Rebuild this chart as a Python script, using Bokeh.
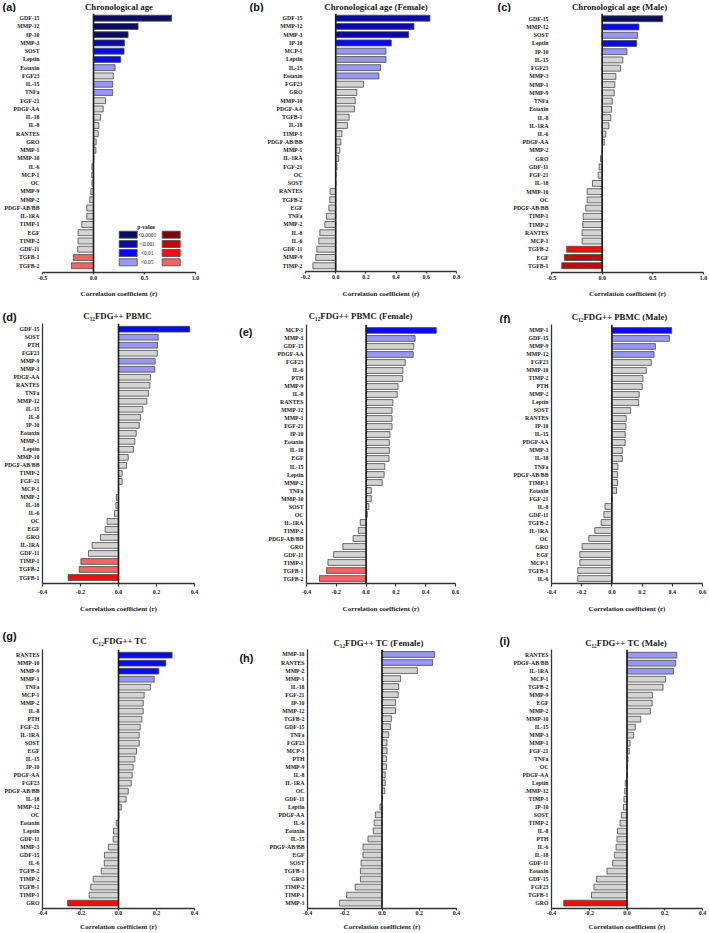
from bokeh.plotting import figure
from bokeh.layouts import column, row
from bokeh.models import (Range1d, FixedTicker, PrintfTickFormatter, Span, Label, LinearAxis,
                          BoxAnnotation, ColumnDataSource)
from bokeh.embed import file_html
from bokeh.resources import INLINE

# ---------------- data ----------------
a_names = ["GDF-15", "MMP-12", "IP-10", "MMP-3", "SOST", "Leptin", "Eotaxin", "FGF23", "IL-15", "TNFa",
           "FGF-21", "PDGF-AA", "IL-18", "IL-8", "RANTES", "GRO", "MMP-1", "MMP-10", "IL-6", "MCP-1",
           "OC", "MMP-9", "MMP-2", "PDGF-AB/BB", "IL-1RA", "TIMP-1", "EGF", "TIMP-2", "GDF-11", "TGFB-1", "TGFB-2"]
a_vals = [0.766, 0.437, 0.339, 0.303, 0.299, 0.266, 0.211, 0.194, 0.188, 0.188,
          0.118, 0.095, 0.069, 0.053, 0.046, 0.026, 0.023, 0.003, -0.016, -0.016,
          -0.015, -0.026, -0.036, -0.066, -0.066, -0.115, -0.151, -0.151, -0.155, -0.197, -0.217]
a_sig = {"GDF-15": 4, "MMP-12": 4, "IP-10": 4, "MMP-3": 3, "SOST": 2, "Leptin": 2,
         "Eotaxin": 1, "IL-15": 1, "TNFa": 1, "TGFB-1": 1, "TGFB-2": 1}

b_names = ["GDF-15", "MMP-12", "MMP-3", "IP-10", "MCP-1", "Leptin", "IL-15", "Eotaxin", "FGF23", "GRO",
           "MMP-10", "PDGF-AA", "TGFB-1", "IL-18", "TIMP-1", "PDGF-AB/BB", "MMP-1", "IL-1RA", "FGF-21", "OC",
           "SOST", "RANTES", "TGFB-2", "EGF", "TNFa", "MMP-2", "IL-8", "IL-6", "GDF-11", "MMP-9", "TIMP-2"]
b_vals = [0.624, 0.518, 0.483, 0.368, 0.333, 0.333, 0.297, 0.286, 0.184, 0.140,
          0.129, 0.124, 0.089, 0.078, 0.041, 0.034, 0.027, 0.019, 0.008, 0.001,
          0.001, -0.037, -0.039, -0.045, -0.061, -0.072, -0.105, -0.112, -0.125, -0.132, -0.151]
b_sig = {"GDF-15": 3, "MMP-12": 3, "MMP-3": 3, "IP-10": 2, "MCP-1": 1, "Leptin": 1, "IL-15": 1, "Eotaxin": 1}

c_names = ["GDF-15", "MMP-12", "SOST", "Leptin", "IP-10", "IL-15", "FGF23", "MMP-3", "MMP-1", "MMP-9",
           "TNFa", "Eotaxin", "IL-8", "IL-1RA", "IL-6", "PDGF-AA", "MMP-2", "GRO", "GDF-11", "FGF-21",
           "IL-18", "MMP-10", "OC", "PDGF-AB/BB", "TIMP-1", "TIMP-2", "RANTES", "MCP-1", "TGFB-2", "EGF", "TGFB-1"]
c_vals = [0.597, 0.363, 0.349, 0.340, 0.244, 0.204, 0.181, 0.135, 0.125, 0.119,
          0.099, 0.092, 0.086, 0.066, 0.036, 0.020, 0.002, -0.016, -0.030, -0.040,
          -0.096, -0.148, -0.148, -0.162, -0.188, -0.191, -0.198, -0.198, -0.350, -0.373, -0.399]
c_sig = {"GDF-15": 4, "MMP-12": 2, "SOST": 1, "Leptin": 2, "IP-10": 1, "TGFB-2": 2, "EGF": 3, "TGFB-1": 3}

d_names = ["GDF-15", "SOST", "PTH", "FGF23", "MMP-9", "MMP-3", "PDGF-AA", "RANTES", "TNFa", "MMP-12",
           "IL-15", "IL-8", "IP-10", "Eotaxin", "MMP-1", "Leptin", "MMP-10", "PDGF-AB/BB", "TIMP-2", "FGF-21",
           "MCP-1", "MMP-2", "IL-18", "IL-6", "OC", "EGF", "GRO", "IL-1RA", "GDF-11", "TIMP-1", "TGFB-2", "TGFB-1"]
d_vals = [0.375, 0.209, 0.205, 0.204, 0.193, 0.191, 0.168, 0.165, 0.158, 0.149,
          0.128, 0.116, 0.109, 0.093, 0.086, 0.079, 0.051, 0.042, 0.019, 0.019,
          0.001, -0.011, -0.014, -0.021, -0.060, -0.070, -0.095, -0.139, -0.158, -0.198, -0.207, -0.265]
d_sig = {"GDF-15": 2, "SOST": 1, "PTH": 1, "MMP-9": 1, "MMP-3": 1, "TIMP-1": 1, "TGFB-2": 1, "TGFB-1": 2}

e_names = ["MCP-1", "MMP-3", "GDF-15", "PDGF-AA", "FGF23", "IL-6", "PTH", "MMP-9", "IL-8", "RANTES",
           "MMP-12", "MMP-1", "FGF-21", "IP-10", "Eotaxin", "IL-18", "EGF", "IL-15", "Leptin", "MMP-2",
           "TNFa", "MMP-10", "SOST", "OC", "IL-1RA", "TIMP-2", "PDGF-AB/BB", "GRO", "GDF-11", "TIMP-1", "TGFB-1", "TGFB-2"]
e_vals = [0.471, 0.329, 0.320, 0.316, 0.263, 0.247, 0.245, 0.214, 0.209, 0.180,
          0.174, 0.174, 0.174, 0.160, 0.156, 0.156, 0.154, 0.125, 0.121, 0.108,
          0.035, 0.035, 0.019, 0.008, -0.039, -0.052, -0.087, -0.156, -0.218, -0.256, -0.265, -0.313]
e_sig = {"MCP-1": 2, "MMP-3": 1, "PDGF-AA": 1, "TGFB-1": 1, "TGFB-2": 1}

f_names = ["MMP-1", "GDF-15", "MMP-9", "MMP-12", "FGF23", "MMP-10", "TIMP-2", "PTH", "MMP-2", "Leptin",
           "SOST", "RANTES", "IP-10", "IL-15", "PDGF-AA", "MMP-3", "IL-18", "TNFa", "PDGF-AB/BB", "TIMP-1",
           "Eotaxin", "FGF-21", "IL-8", "GDF-11", "TGFB-2", "IL-1RA", "OC", "GRO", "EGF", "MCP-1", "TGFB-1", "IL-6"]
f_vals = [0.396, 0.381, 0.288, 0.279, 0.261, 0.228, 0.206, 0.201, 0.181, 0.177,
          0.124, 0.095, 0.093, 0.088, 0.088, 0.069, 0.069, 0.040, 0.038, 0.038,
          0.031, 0.001, -0.046, -0.053, -0.071, -0.113, -0.153, -0.197, -0.212, -0.212, -0.226, -0.226]
f_sig = {"MMP-1": 2, "GDF-15": 1, "MMP-9": 1, "MMP-12": 1}

g_names = ["RANTES", "MMP-10", "MMP-9", "MMP-1", "TNFa", "MCP-1", "MMP-2", "IL-8", "PTH", "FGF-21",
           "IL-1RA", "SOST", "EGF", "IL-15", "IP-10", "PDGF-AA", "FGF23", "PDGF-AB/BB", "IL-18", "MMP-12",
           "OC", "Eotaxin", "Leptin", "GDF-11", "MMP-3", "GDF-15", "IL-6", "TGFB-2", "TIMP-2", "TGFB-1", "TIMP-1", "GRO"]
g_vals = [0.282, 0.249, 0.212, 0.188, 0.168, 0.135, 0.130, 0.130, 0.123, 0.114,
          0.109, 0.109, 0.095, 0.086, 0.077, 0.072, 0.067, 0.051, 0.040, 0.014,
          0.002, -0.012, -0.026, -0.028, -0.053, -0.074, -0.075, -0.091, -0.133, -0.146, -0.154, -0.268]
g_sig = {"RANTES": 2, "MMP-10": 2, "MMP-9": 2, "MMP-1": 1, "GRO": 2}

h_names = ["MMP-10", "RANTES", "MMP-2", "MMP-1", "IL-18", "FGF-21", "IP-10", "MMP-12", "TGFB-2", "GDF-15",
           "TNFa", "FGF23", "MCP-1", "PTH", "MMP-9", "IL-8", "IL-1RA", "OC", "GDF-11", "Leptin",
           "PDGF-AA", "IL-6", "Eotaxin", "IL-15", "PDGF-AB/BB", "EGF", "SOST", "TGFB-1", "GRO", "TIMP-2", "TIMP-1", "MMP-3"]
h_vals = [0.282, 0.271, 0.190, 0.100, 0.089, 0.087, 0.073, 0.073, 0.050, 0.045,
          0.036, 0.027, 0.027, 0.024, 0.024, 0.017, 0.017, 0.015, 0.001, -0.011,
          -0.036, -0.042, -0.047, -0.075, -0.102, -0.102, -0.112, -0.116, -0.116, -0.144, -0.190, -0.229]
h_sig = {"MMP-10": 1, "RANTES": 1}

i_names = ["RANTES", "PDGF-AB/BB", "IL-1RA", "MCP-1", "TGFB-2", "MMP-9", "EGF", "MMP-2", "MMP-10", "IL-15",
           "MMP-3", "MMP-1", "FGF-21", "TNFa", "OC", "PDGF-AA", "Leptin", ".MMP-12", "TIMP-1", "IP-10",
           "SOST", "TIMP-2", "IL-8", "PTH", "IL-6", "IL-18", "GDF-11", "Eotaxin", "GDF-15", "FGF23", "TGFB-1", "GRO"]
i_vals = [0.264, 0.258, 0.246, 0.204, 0.191, 0.135, 0.133, 0.124, 0.073, 0.044,
          0.035, 0.016, 0.012, 0.005, 0.002, 0.001, -0.009, -0.012, -0.016, -0.019,
          -0.030, -0.037, -0.050, -0.053, -0.058, -0.067, -0.076, -0.106, -0.161, -0.175, -0.188, -0.335]
i_sig = {"RANTES": 1, "PDGF-AB/BB": 1, "IL-1RA": 1, "GRO": 2}

titles = ["Chronological age", "Chronological age (Female)", "Chronological age (Male)",
          "C\u2081\u2082FDG++ PBMC", "C\u2081\u2082FDG++ PBMC (Female)", "C\u2081\u2082FDG++ PBMC (Male)",
          "C\u2081\u2082FDG++ TC", "C\u2081\u2082FDG++ TC (Female)", "C\u2081\u2082FDG++ TC (Male)"]
letters = ["(a)", "(b)", "(c)", "(d)", "(e)", "(f)", "(g)", "(h)", "(i)"]
ticks_a = [-0.5, 0.0, 0.5, 1.0]
ticks_b = [-0.2, 0.0, 0.2, 0.4, 0.6, 0.8]
ticks_d = [-0.4, -0.2, 0.0, 0.2, 0.4]
ticks_e = [-0.4, -0.2, 0.0, 0.2, 0.4, 0.6]
pvalue_levels = [4, 3, 2, 1]
pvalue_labels = ["<0.0001", "<0.001", "<0.01", "<0.05"]
xlabel = "Correlation coefficient (r)"

# ---------------- style ----------------
BLUE = {4: "#0c0c5c", 3: "#0a0aa2", 2: "#0a0af2", 1: "#9898f4"}
RED = {4: "#7c0606", 3: "#c20808", 2: "#fa0a0a", 1: "#f46464"}
GRAY = "#d4d4d4"
EDGE = "#4a4a4a"
SERIF = "Liberation Serif"
INK = "#1a1a1a"

COLS = [0, 236, 472, 709]
ROWS = [0, 300, 620, 933]
HEAD = [12, 23, 29]          # header strip height per row (title + panel letter)

# geometry in page pixels
GEOM = [
    dict(col=0, row=0, fl=42.3, fr=195.0, ft=13.0, fb=273.5, y0=17.7, y1=266.7, xr=(-0.5, 1.0), ticks=ticks_a,
         tcx=118.5, tcy=6, lx=2, ly=6.5, lax=False, tick_out=2, std=1, lstd=7),
    dict(col=1, row=0, fl=305.0, fr=456.0, ft=13.0, fb=272.5, y0=17.7, y1=266.7, xr=(-0.2, 0.8), ticks=ticks_b,
         tcx=375.5, tcy=6, lx=249, ly=6.5, lax=False, tick_out=2, std=1, lstd=8),
    dict(col=2, row=0, fl=551.0, fr=703.0, ft=13.0, fb=273.5, y0=18.3, y1=266.7, xr=(-0.5, 1.0), ticks=ticks_a,
         tcx=619, tcy=6, lx=497, ly=6.5, lax=False, tick_out=2, std=1, lstd=7),
    dict(col=0, row=1, fl=42.3, fr=194.3, ft=323.3, fb=583.3, y0=329.0, y1=577.3, xr=(-0.4, 0.4), ticks=ticks_d,
         tcx=117, tcy=315, lx=2, ly=316, lax=True, tick_out=3, std=3, lstd=8),
    dict(col=1, row=1, fl=305.0, fr=455.3, ft=324.0, fb=583.3, y0=330.0, y1=578.3, xr=(-0.4, 0.6), ticks=ticks_e,
         tcx=360, tcy=315, lx=250, ly=332, lax=True, tick_out=3, std=3, lstd=8, letter_axis=True),
    dict(col=2, row=1, fl=551.3, fr=702.0, ft=324.0, fb=583.3, y0=330.0, y1=578.3, xr=(-0.4, 0.6), ticks=ticks_e,
         tcx=619, tcy=316, lx=499, ly=318, lax=True, tick_out=3, std=3, lstd=8),
    dict(col=0, row=2, fl=42.3, fr=194.3, ft=649.3, fb=908.7, y0=655.0, y1=903.3, xr=(-0.4, 0.4), ticks=ticks_d,
         tcx=119, tcy=640, lx=2, ly=635, lax=True, tick_out=2, std=0, lstd=5),
    dict(col=1, row=2, fl=305.0, fr=456.0, ft=649.3, fb=908.7, y0=654.3, y1=903.3, xr=(-0.4, 0.4), ticks=ticks_d,
         tcx=378, tcy=642, lx=251, ly=653, lax=True, tick_out=2, std=0, lstd=5, letter_axis=True),
    dict(col=2, row=2, fl=551.3, fr=702.0, ft=649.3, fb=908.7, y0=655.0, y1=903.3, xr=(-0.4, 0.4), ticks=ticks_d,
         tcx=625.5, tcy=642, lx=499, ly=640, lax=True, tick_out=2, std=0, lstd=5),
]


def bar_colour(v, level):
    if level == 0:
        return GRAY
    return BLUE[level] if v >= 0 else RED[level]


def make_header(g, title, letter):
    cx0, cx1 = COLS[g["col"]], COLS[g["col"] + 1]
    ry0 = ROWS[g["row"]]
    hh = HEAD[g["row"]]
    h = figure(width=cx1 - cx0, height=hh, x_range=Range1d(0, cx1 - cx0), y_range=Range1d(0, hh),
               output_backend="svg", toolbar_location=None, title=None,
               x_axis_location=None, y_axis_location=None, frame_align=False,
               min_border_left=0, min_border_right=0, min_border_top=0, min_border_bottom=0)
    h.outline_line_color = None
    h.grid.visible = False
    h.add_layout(Label(x=g["tcx"] - cx0, y=hh - (g["tcy"] - ry0), x_units="screen", y_units="screen",
                       text=title, text_align="center", text_baseline="middle",
                       text_font=SERIF, text_font_style="bold", text_font_size="8.8px", text_color=INK))
    if not g.get("letter_axis"):
        h.add_layout(Label(x=g["lx"] - cx0, y=hh - (g["ly"] - ry0), x_units="screen", y_units="screen",
                           text=letter, text_align="left", text_baseline="middle",
                           text_font="Liberation Sans", text_font_style="bold", text_font_size="11px",
                           text_color="#111111"))
    return h


def make_panel(names, vals, sig, g, letter):
    n = len(names)
    cx0, cx1 = COLS[g["col"]], COLS[g["col"] + 1]
    ry0 = ROWS[g["row"]] + HEAD[g["row"]]
    ry1 = ROWS[g["row"] + 1]
    W, H = cx1 - cx0, ry1 - ry0
    bl = round(g["fl"] - cx0)
    br = round(cx1 - g["fr"])
    bt = max(0, round(g["ft"] - ry0))
    bb = round(ry1 - g["fb"])
    sp = (g["y1"] - g["y0"]) / (n - 1)
    y_end = (n - 1) + (g["y0"] - g["ft"]) / sp
    y_start = -(g["fb"] - g["y1"]) / sp

    p = figure(width=W, height=H, x_range=Range1d(*g["xr"]), y_range=Range1d(y_start, y_end),
               output_backend="svg", toolbar_location=None, title=None, frame_align=False,
               min_border_left=bl, min_border_right=br, min_border_top=bt, min_border_bottom=bb)
    p.outline_line_color = None
    p.xgrid.visible = False
    p.ygrid.visible = False

    pos = [n - 1 - k for k in range(n)]
    cols = [bar_colour(v, sig.get(nm, 0)) for nm, v in zip(names, vals)]
    src = ColumnDataSource(dict(y=pos, right=vals, color=cols, name=names))
    p.hbar(y="y", left=0, right="right", height=0.72, source=src,
           fill_color="color", line_color=EDGE, line_width=0.8)

    p.add_layout(Span(location=0, dimension="height", line_color="#1a1a1a", line_width=1.6))

    xa = p.xaxis[0]
    xa.ticker = FixedTicker(ticks=g["ticks"])
    xa.formatter = PrintfTickFormatter(format="%.1f")
    xa.axis_line_color = "#333333"
    xa.axis_line_width = 1.5
    xa.major_tick_line_color = "#333333"
    xa.major_tick_line_width = 1.2
    xa.major_tick_out = g["tick_out"]
    xa.major_tick_in = 0
    xa.minor_tick_line_color = None
    xa.major_label_standoff = g["std"]
    xa.major_label_text_font = SERIF
    xa.major_label_text_font_style = "bold"
    xa.major_label_text_font_size = "6px"
    xa.major_label_text_color = INK
    xa.axis_label = xlabel
    xa.axis_label_standoff = g["lstd"]
    xa.axis_label_text_font = SERIF
    xa.axis_label_text_font_style = "bold"
    xa.axis_label_text_font_size = "7px"
    xa.axis_label_text_color = INK

    ya = p.yaxis[0]
    ya.ticker = FixedTicker(ticks=pos)
    ya.major_label_overrides = {pp: nm for pp, nm in zip(pos, names)}
    ya.major_tick_in = 0
    ya.major_tick_out = 0
    ya.minor_tick_line_color = None
    ya.major_label_standoff = 3
    ya.major_label_text_font = SERIF
    ya.major_label_text_font_style = "bold"
    ya.major_label_text_font_size = "5.8px"
    ya.major_label_text_color = INK
    if g["lax"]:
        ya.axis_line_color = "#333333"
        ya.axis_line_width = 1.3
    else:
        ya.axis_line_color = None

    if g.get("letter_axis"):
        ypos = round((n - 1) + (g["y0"] - g["ly"]) / sp, 4)
        lax = LinearAxis(ticker=FixedTicker(ticks=[ypos]), major_label_overrides={ypos: letter},
                         axis_line_color=None, major_tick_line_color=None, minor_tick_line_color=None,
                         major_label_standoff=7, major_label_text_font="Liberation Sans",
                         major_label_text_font_style="bold", major_label_text_font_size="11px",
                         major_label_text_color="#111111")
        p.add_layout(lax, "left")
    return p


data = [(a_names, a_vals, a_sig), (b_names, b_vals, b_sig), (c_names, c_vals, c_sig),
        (d_names, d_vals, d_sig), (e_names, e_vals, e_sig), (f_names, f_vals, f_sig),
        (g_names, g_vals, g_sig), (h_names, h_vals, h_sig), (i_names, i_vals, i_sig)]

cells = []
panels = []
for (nm, v, s), g, t, l in zip(data, GEOM, titles, letters):
    pnl = make_panel(nm, v, s, g, l)
    panels.append(pnl)
    cells.append(column(make_header(g, t, l), pnl))

# ---------------- p-value key inside panel (a) ----------------
pa, ga = panels[0], GEOM[0]
row_cy = [235.7, 245.0, 254.0, 263.3]
for lvl, lab, cy in zip(pvalue_levels, pvalue_labels, row_cy):
    bot, top = ga["fb"] - (cy + 3.5), ga["fb"] - (cy - 3.5)
    pa.add_layout(BoxAnnotation(left=119 - ga["fl"], right=137 - ga["fl"], bottom=bot, top=top,
                                left_units="screen", right_units="screen", bottom_units="screen", top_units="screen",
                                fill_color=BLUE[lvl], fill_alpha=1, line_color=EDGE, line_width=0.8, line_alpha=1))
    pa.add_layout(BoxAnnotation(left=162 - ga["fl"], right=180 - ga["fl"], bottom=bot, top=top,
                                left_units="screen", right_units="screen", bottom_units="screen", top_units="screen",
                                fill_color=RED[lvl], fill_alpha=1, line_color=EDGE, line_width=0.8, line_alpha=1))
    pa.add_layout(Label(x=147 - ga["fl"], y=ga["fb"] - cy, x_units="screen", y_units="screen", text=lab,
                        text_align="center", text_baseline="middle", text_font=SERIF,
                        text_font_size="5.4px", text_color=INK))
pa.add_layout(Label(x=146 - ga["fl"], y=ga["fb"] - 227.5, x_units="screen", y_units="screen",
                    text="p-value", text_align="center", text_baseline="middle",
                    text_font=SERIF, text_font_style="bold", text_font_size="5.6px", text_color=INK))

layout = column(row(*cells[0:3]), row(*cells[3:6]), row(*cells[6:9]))

open("out.html", "w").write(file_html(layout, INLINE))
